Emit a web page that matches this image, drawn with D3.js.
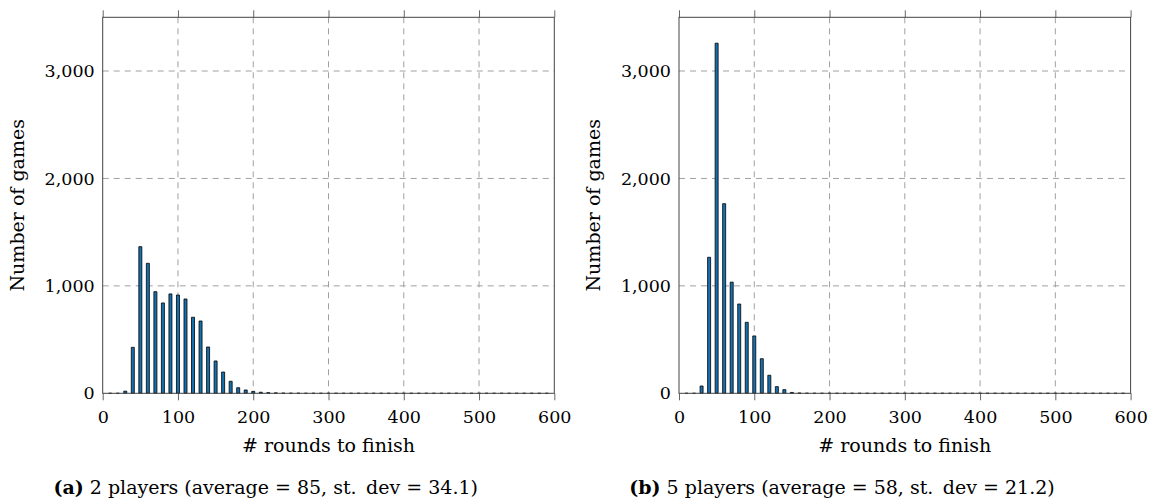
<!DOCTYPE html>
<html>
<head>
<meta charset="utf-8">
<script src="https://cdn.jsdelivr.net/npm/d3@7"></script>
<style>
  body { margin: 0; background: #fff; }
  text { font-family: 'DejaVu Serif', 'Liberation Serif', serif; font-size: 19px; fill: #000; }
  .grid line { stroke: #a0a0a0; stroke-width: 1; stroke-dasharray: 6,5; }
  .axis line { stroke: #666; }
  .axis path { display: none; }
</style>
</head>
<body>
<div id="chart-area"></div>
<script>
const bins = [10, 20, 30, 40, 50, 60, 70, 80, 90, 100, 110, 120, 130, 140, 150, 160, 170, 180, 190, 200,
  210, 220, 230, 240, 250, 260, 270, 280, 290, 300, 310, 320, 330, 340, 350, 360, 370, 380, 390, 400,
  410, 420, 430, 440, 450, 460, 470, 480, 490, 500, 510, 520, 530, 540, 550, 560, 570, 580, 590];

// 2 players
const games2 = [0, 0, 20, 428, 1365, 1210, 946, 841, 925, 915, 878, 708, 673, 431, 301, 198, 112, 52, 31, 18,
  10, 6, 4, 2, 1, 1, 0, 0, 0, 0, 0, 0, 0, 0, 0, 0, 0, 0, 0, 0,
  0, 0, 0, 0, 0, 0, 0, 0, 0, 0, 0, 0, 0, 0, 0, 0, 0, 0, 0];

// 5 players
const games5 = [0, 0, 68, 1266, 3259, 1765, 1035, 831, 661, 534, 322, 168, 62, 34, 8, 3, 1, 0, 0, 0,
  0, 0, 0, 0, 0, 0, 0, 0, 0, 0, 0, 0, 0, 0, 0, 0, 0, 0, 0, 0,
  0, 0, 0, 0, 0, 0, 0, 0, 0, 0, 0, 0, 0, 0, 0, 0, 0, 0, 0];

const xTicks = [0, 100, 200, 300, 400, 500, 600];
const yTicks = [0, 1000, 2000, 3000];
const xLabel = '# rounds to finish';
const yLabel = 'Number of games';
const captionTags = ['(a)', '(b)'];
const captionTexts = [
  '2 players (average = 85, st.\u2002dev = 34.1)',
  '5 players (average = 58, st.\u2002dev = 21.2)'
];

const size = { width: 1151, height: 502 };
const plot = { top: 17.3, width: 451.6, height: 376 };
const panelLefts = [102.7, 679];

const drawPanel = (svg, counts, left, tag, caption) => {
  const width = plot.width;
  const height = plot.height;

  const x = d3.scaleLinear().domain([0, 600]).range([0, width]);
  const y = d3.scaleLinear().domain([0, 3500]).range([height, 0]);

  const g = svg.append('g')
    .attr('transform', `translate(${left},${plot.top})`);

  // grid
  const grid = g.append('g').attr('class', 'grid');
  grid.selectAll('.gx')
    .data(xTicks.slice(1, -1))
    .enter().append('line')
    .attr('x1', d => x(d)).attr('x2', d => x(d))
    .attr('y1', 0).attr('y2', height);
  grid.selectAll('.gy')
    .data(yTicks.slice(1))
    .enter().append('line')
    .attr('x1', 0).attr('x2', width)
    .attr('y1', d => y(d)).attr('y2', d => y(d));

  // bars
  const data = bins.map((b, i) => ({ bin: b, count: counts[i] }));
  g.selectAll('.bar')
    .data(data)
    .enter().append('path')
    .attr('class', 'bar')
    .attr('d', d => {
      const x0 = x(d.bin - 2), x1 = x(d.bin + 2);
      return `M${x0},${y(0)}V${y(d.count)}H${x1}V${y(0)}Z`;
    })
    .attr('fill', '#1670b0')
    .attr('stroke', '#000')
    .attr('stroke-width', 0.8);

  // axes
  g.append('g')
    .attr('class', 'x axis')
    .attr('transform', `translate(0,${height})`)
    .call(d3.axisBottom(x).tickValues(xTicks).tickSize(7).tickPadding(10));
  g.append('g')
    .attr('class', 'x axis')
    .call(d3.axisTop(x).tickValues(xTicks).tickSize(7).tickFormat(''));
  g.append('g')
    .attr('class', 'y axis')
    .call(d3.axisLeft(y).tickValues(yTicks).tickSize(0).tickPadding(8).tickFormat(d3.format(',')));

  g.selectAll('.axis text')
    .style('font-size', '17.5px')
    .style('font-family', "'DejaVu Serif', serif")
    .attr('fill', '#000');

  g.append('rect')
    .attr('width', width)
    .attr('height', height)
    .attr('fill', 'none')
    .attr('stroke', '#444')
    .attr('stroke-width', 1);

  g.append('text')
    .attr('x', width / 2)
    .attr('y', height + 59)
    .attr('text-anchor', 'middle')
    .text(xLabel);

  g.append('text')
    .attr('transform', `translate(-79,${height / 2}) rotate(-90)`)
    .attr('text-anchor', 'middle')
    .text(yLabel);

  const cap = g.append('text')
    .attr('x', 163)
    .attr('y', height + 101)
    .attr('text-anchor', 'middle');
  cap.append('tspan').attr('font-weight', 'bold').text(tag);
  cap.append('tspan').text(' ' + caption);
};

const main = () => {
  const svg = d3.select('#chart-area').append('svg')
    .attr('width', size.width)
    .attr('height', size.height);

  drawPanel(svg, games2, panelLefts[0], captionTags[0], captionTexts[0]);
  drawPanel(svg, games5, panelLefts[1], captionTags[1], captionTexts[1]);
};
window.onload = main;
</script>
</body>
</html>
